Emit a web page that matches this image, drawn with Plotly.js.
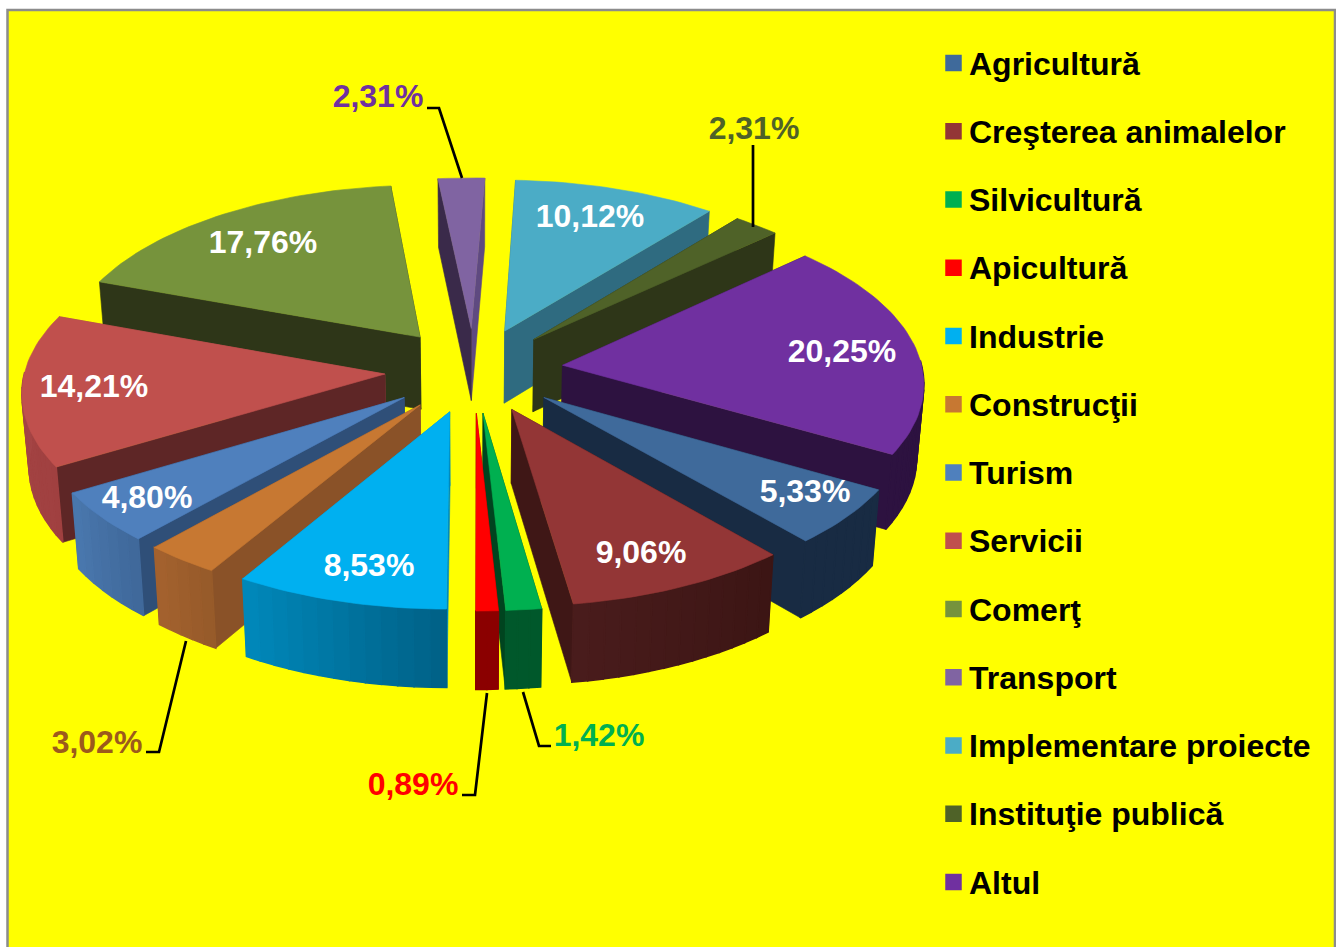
<!DOCTYPE html>
<html><head><meta charset="utf-8">
<script src="https://cdn.plot.ly/plotly-3.0.1.min.js"></script>
<style>html,body{margin:0;padding:0;background:#fff}#chart{width:1336px;height:947px}</style>
</head><body><div id="chart"></div>
<script>
// ---- data ----
const categories = ["Agricultură","Creşterea animalelor","Silvicultură","Apicultură","Industrie","Construcţii","Turism","Servicii","Comerţ","Transport","Implementare proiecte","Instituţie publică","Altul"];
const values = [5.33,9.06,1.42,0.89,8.53,3.02,4.80,14.21,17.76,2.31,10.12,2.31,20.25];
const valueLabels = ["5,33%","9,06%","1,42%","0,89%","8,53%","3,02%","4,80%","14,21%","17,76%","2,31%","10,12%","2,31%","20,25%"];

// ---- styles ----
const topColors   = ["#3f6a9b","#933636","#00b050","#ff0000","#00b0f0","#c77832","#4f80bd","#c0504d","#76933c","#8064a2","#4bacc6","#4f6228","#7030a0"];
const wallStart   = ["#182b43","#3f1716","#00441f","#8b0000","#0089bb","#8a5228","#2f4f78","#5e2626","#2e3618","#3a2a4a","#2f6b80","#2e3618","#2d1240"];
const wallEnd     = ["#182b43","#3f1716","#00441f","#8b0000","#0089bb","#8a5228","#2f4f78","#a04545","#2e3618","#5f4a80","#2f6b80","#2e3618","#2d1240"];
const outerLeft   = ["#182b43","#4a1c1c","#00582b","#8b0000","#0089bb","#a4622e","#4a78ae","#a84848","#2e3618","#5f4a80","#2f6b80","#2e3618","#2d1240"];
const outerRight  = ["#182b43","#3b1514","#00582b","#8b0000","#006086","#955a2a","#3f6899","#a04040","#2e3618","#5f4a80","#2f6b80","#2e3618","#2d1240"];
const labelColors = ["#ffffff","#ffffff","#00b050","#ff0000","#ffffff","#9c5a1c","#ffffff","#ffffff","#ffffff","#7030a0","#ffffff","#4f6228","#ffffff"];

// ---- layout constants ----
const labelX = [805,641,599,413,369,97,147,94,263,378,590,754,842];
const labelY = [494,555,738,787,568,745,500,389,245,99,219,131,354];
const leaderX = [null,null,[523,539,551],[487,475,462],null,[186,159,146],null,null,null,[462,439,427],null,[753,753],null];
const leaderY = [null,null,[692,746,746],[693,795,795],null,[641,752,752],null,null,null,[178,108,108],null,[227,145],null];
const CX=474, CY=370, AX=360, AY=171.3, PERSP=0.0906, EXPL=0.248, DEPTH=73, SHRINK=0.016, START=30;
const LEG_X=953.5, LEG_Y0=63, LEG_STEP=68.25, LEG_TEXT_X=969, LEG_TEXT_DY=3.5;
const FONT='"Liberation Sans", Arial, sans-serif';

function project(X,Y,Z){
  const s=1/(1-PERSP*Y), f=1-SHRINK*Z;
  return [CX+AX*X*s*f, CY+AY*Y*s*f+DEPTH*Z*s];
}
function hex(c){return [1,3,5].map(i=>parseInt(c.slice(i,i+2),16));}
function mix(a,b,t){const A=hex(a),B=hex(b);return 'rgb('+A.map((v,i)=>Math.round(v+(B[i]-v)*t)).join(',')+')';}
function poly(pts,color,name,lw){
  return {type:'scatter',mode:'lines',x:pts.map(p=>p[0]),y:pts.map(p=>p[1]),fill:'toself',fillcolor:color,
    line:{color:color,width:lw===undefined?0.6:lw},hoverinfo:name?'text':'skip',text:name||undefined,showlegend:false};
}
const total=values.reduce((a,b)=>a+b,0);
const rad=d=>d*Math.PI/180;
let cum=START;
const slices=values.map((v,i)=>{
  const t0=cum, t1=cum+v/total*360; cum=t1;
  const b=(t0+t1)/2;
  return {i,t0,t1,b,ox:EXPL*Math.cos(rad(b)),oy:EXPL*Math.sin(rad(b))};
});
const order=[...slices].sort((a,b)=>Math.sin(rad(a.b))-Math.sin(rad(b.b)));
const traces=[];
order.forEach(S=>{
  const i=S.i, rim=(t,z)=>project(S.ox+Math.cos(rad(t)),S.oy+Math.sin(rad(t)),z), apex=z=>project(S.ox,S.oy,z);
  const walls=[{t:S.t0,c:wallStart[i]},{t:S.t1,c:wallEnd[i]}]
    .map(w=>({...w,y:rim(w.t,0)[1]})).sort((a,b)=>a.y-b.y);
  walls.forEach(w=>traces.push(poly([apex(0),rim(w.t,0),rim(w.t,1),apex(1),apex(0)],w.c)));
  // outer wall: strips for the gradient, each drawn wide enough to close the seams
  const n=Math.max(1,Math.ceil((S.t1-S.t0)/2.5));
  for(let k=0;k<n;k++){
    const a=S.t0+(S.t1-S.t0)*k/n, c=S.t0+(S.t1-S.t0)*(k+1)/n;
    if(Math.sin(rad((a+c)/2))<-0.02) continue;
    const pA=rim(a,0),pC=rim(c,0);
    const frac=1-(k+0.5)/n; // angle grows leftwards on the front of the pie
    traces.push(poly([pA,pC,rim(c,1),rim(a,1),pA],mix(outerLeft[i],outerRight[i],frac),null,1.5));
  }
  const top=[apex(0)];
  const m=Math.max(4,Math.ceil((S.t1-S.t0)/1.5));
  for(let k=0;k<=m;k++) top.push(rim(S.t0+(S.t1-S.t0)*k/m,0));
  top.push(apex(0));
  traces.push(poly(top,topColors[i],categories[i]+': '+valueLabels[i]));
});
// leaders
leaderX.forEach((lx,i)=>{ if(lx) traces.push({type:'scatter',mode:'lines',x:lx,y:leaderY[i],line:{color:'#000',width:2.7},hoverinfo:'skip',showlegend:false}); });
// value labels
traces.push({type:'scatter',mode:'text',x:labelX,y:labelY,text:valueLabels,textposition:'middle center',
  textfont:{family:FONT,size:32,color:labelColors,weight:'bold'},hoverinfo:'skip',showlegend:false});
// legend
const legY=categories.map((c,i)=>LEG_Y0+i*LEG_STEP);
traces.push({type:'scatter',mode:'markers',x:categories.map(()=>LEG_X),y:legY,
  marker:{symbol:'square',size:16.5,color:topColors,line:{width:0}},hoverinfo:'skip',showlegend:false});
traces.push({type:'scatter',mode:'text',x:categories.map(()=>LEG_TEXT_X),y:legY.map(v=>v+LEG_TEXT_DY),text:categories,textposition:'middle right',
  textfont:{family:FONT,size:32,color:'#000',weight:'bold'},hoverinfo:'skip',showlegend:false});

const hidden={range:[0,1336],visible:false,fixedrange:true};
Plotly.newPlot('chart',traces,{
  width:1336,height:947,margin:{l:0,r:0,t:0,b:0},paper_bgcolor:'#fff',plot_bgcolor:'rgba(0,0,0,0)',
  xaxis:{...hidden},yaxis:{...hidden,range:[947,0]},showlegend:false,
  shapes:[{type:'rect',layer:'below',xref:'x',yref:'y',x0:7.5,y0:10,x1:1335,y1:970,fillcolor:'#ffff00',line:{color:'#8c8c8c',width:2.5}}]
},{displayModeBar:false,staticPlot:true});
</script></body></html>
